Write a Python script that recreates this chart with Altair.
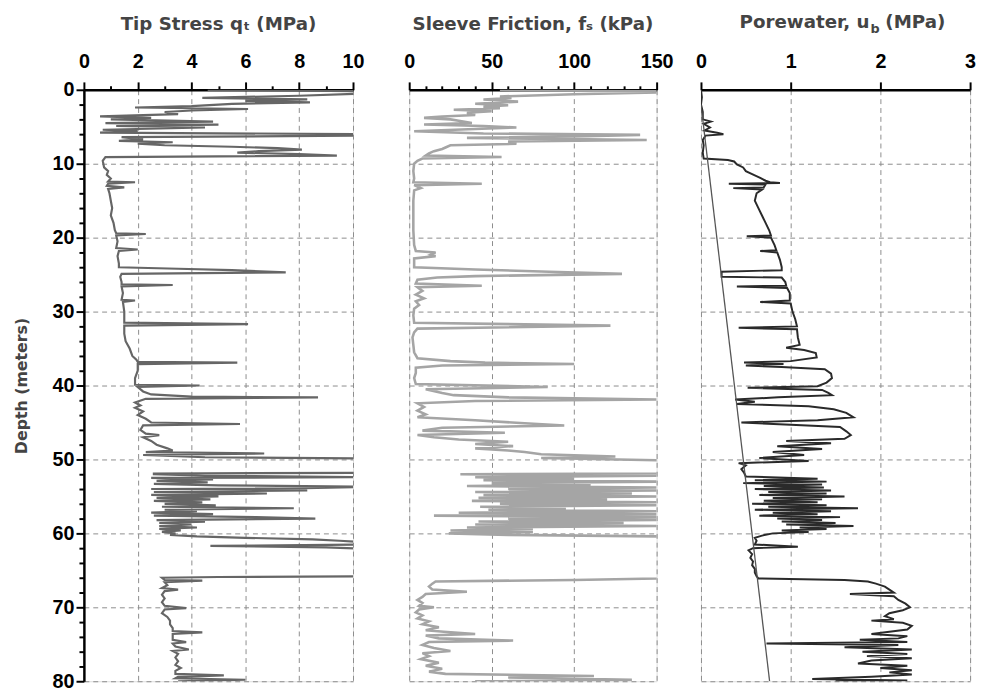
import altair as alt
import pandas as pd

# ---------------- data ----------------
tip_depth = [0.0, 0.2, 0.5, 0.8, 1.1, 1.3, 1.5, 1.7, 1.9, 2.2, 2.4, 2.6, 2.8, 3.0, 3.3, 3.6, 3.8, 4.0, 4.3, 4.5,
             4.7, 4.9, 5.1, 5.4, 5.6, 5.8, 6.0, 6.2, 6.4, 6.7, 6.9, 7.1, 7.3, 7.5, 7.7, 7.9, 8.1, 8.3, 8.5, 8.7,
             8.9, 9.1, 9.6, 10.5, 11.0, 11.5, 12.0, 12.4, 12.5, 12.7, 13.0, 13.2, 13.4, 14.0, 15.0, 16.0, 17.0,
             18.0, 19.0, 19.4, 19.5, 19.7, 20.5, 21.4, 21.6, 21.8, 22.5, 23.5, 24.0, 24.2, 24.4, 24.7, 24.9,
             25.3, 26.0, 26.3, 26.4, 26.6, 27.5, 28.4, 28.5, 28.7, 30.0, 31.5, 31.7, 31.9, 33.0, 34.0, 35.0,
             36.0, 36.5, 36.8, 36.9, 37.1, 38.0, 39.0, 39.9, 40.0, 40.2, 40.8, 41.2, 41.5, 41.6, 41.8, 42.3,
             42.7, 43.0, 43.5, 44.0, 44.5, 45.0, 45.2, 45.4, 46.0, 46.5, 46.7, 47.0, 47.5, 48.0, 48.5, 48.8,
             49.0, 49.2, 49.4, 49.7, 49.9, 51.8, 51.9, 52.0, 52.2, 52.4, 52.5, 52.7, 52.9, 53.1, 53.3, 53.5,
             53.7, 53.9, 54.0, 54.2, 54.4, 54.6, 54.8, 55.0, 55.2, 55.4, 55.6, 55.8, 56.0, 56.2, 56.4, 56.6,
             56.8, 57.0, 57.2, 57.4, 57.6, 57.8, 58.0, 58.2, 58.4, 58.6, 58.8, 59.0, 59.2, 59.4, 59.6, 59.8,
             60.0, 60.2, 60.4, 60.6, 60.8, 61.0, 61.2, 61.5, 61.7, 61.9, 62.1, 65.6, 65.8, 65.9, 66.0, 66.3,
             66.4, 66.6, 67.0, 67.4, 67.6, 67.8, 68.3, 68.8, 69.3, 69.8, 70.1, 70.3, 70.8, 71.3, 71.8, 72.3,
             72.8, 73.2, 73.4, 73.6, 74.0, 74.4, 74.7, 74.9, 75.3, 75.7, 75.9, 76.3, 76.8, 77.3, 77.8, 78.2,
             78.6, 79.0, 79.2, 79.4, 79.6, 79.8, 80.0]
tip_q = [4.6, 10.5, 10.5, 8.0, 4.4, 8.3, 6.0, 8.4, 5.5, 4.0, 1.9, 6.1, 4.0, 3.0, 3.5, 0.6, 2.5, 1.0, 4.8, 0.8,
         5.0, 1.2, 4.5, 0.7, 2.0, 0.6, 10.5, 10.5, 1.4, 2.2, 1.3, 3.3, 2.0, 3.0, 5.5, 7.2, 8.1, 6.5, 5.7, 8.0,
         9.4, 0.8, 0.7, 0.75, 0.9, 0.85, 1.0, 0.9, 1.9, 0.9, 0.85, 1.5, 0.9, 0.95, 1.0, 1.05, 1.0,
         1.1, 1.15, 1.2, 2.3, 1.2, 1.25, 1.2, 2.0, 1.3, 1.25, 1.3, 1.3, 3.5, 5.5, 7.5, 1.4,
         1.35, 1.4, 1.4, 3.3, 1.4, 1.45, 1.4, 1.9, 1.45, 1.5, 1.5, 6.1, 1.5, 1.5, 1.55, 1.7,
         1.8, 1.95, 2.0, 5.7, 2.0, 2.0, 1.9, 1.9, 4.3, 2.0, 2.2, 2.5, 4.0, 8.7, 2.3, 1.9,
         2.1, 1.9, 2.2, 2.0, 2.3, 2.5, 5.8, 2.2, 2.1, 2.3, 2.8, 2.2, 2.5, 2.7, 3.1, 3.3,
         2.3, 6.7, 2.2, 4.5, 12.0, 12.0, 2.6, 2.6, 4.5, 10.5, 2.5, 4.8, 2.7, 4.6, 2.6, 5.0,
         10.5, 8.2, 2.5, 8.3, 2.6, 6.8, 2.5, 5.0, 2.7, 4.7, 2.6, 4.4, 3.0, 4.9, 2.9, 7.8,
         3.0, 4.2, 2.5, 4.8, 2.6, 6.4, 8.6, 2.7, 4.5, 2.8, 4.0, 2.8, 4.2, 2.8, 3.6, 2.9,
         3.4, 3.2, 4.2, 6.0, 8.5, 9.5, 10.5, 10.5, 4.7, 9.0, 10.5, 12.0, 10.5, 5.0, 2.9, 3.0,
         4.4, 3.0, 3.1, 2.9, 3.5, 3.0, 2.9, 3.0, 2.9, 3.0, 3.8, 3.0, 2.9, 3.1, 3.2, 3.2,
         3.3, 3.3, 4.4, 3.3, 3.3, 3.3, 3.8, 3.3, 3.4, 3.9, 3.3, 3.5, 3.4, 3.5, 3.4, 3.6,
         3.4, 3.4, 5.2, 3.5, 3.4, 6.0, 3.5]

sleeve_depth = [0.0, 0.2, 0.35, 0.6, 0.9, 1.1, 1.3, 1.6, 1.9, 2.1, 2.3, 2.5, 2.7, 2.9, 3.1, 3.4, 3.6, 3.8, 4.0,
                4.2, 4.5, 4.7, 4.9, 5.1, 5.3, 5.6, 5.9, 6.1, 6.3, 6.5, 6.8, 7.0, 7.3, 7.5, 7.8, 8.0, 8.3,
                8.6, 8.9, 9.1, 9.3, 9.6, 10.0, 11.0, 12.0, 12.5, 12.7, 12.9, 13.3, 13.6, 15.0, 17.0, 19.0,
                21.0, 21.8, 22.0, 22.3, 22.5, 22.8, 24.0, 24.3, 24.6, 24.9, 25.2, 25.4, 25.7, 26.2, 26.5,
                26.7, 27.2, 27.7, 28.2, 28.6, 29.1, 29.6, 30.5, 31.5, 31.9, 32.3, 32.8, 33.5, 34.5, 35.5,
                36.3, 36.7, 36.9, 37.1, 37.3, 37.6, 38.3, 39.0, 39.8, 40.2, 40.5, 41.0, 41.3, 41.6, 41.9,
                42.1, 42.4, 42.9, 43.4, 43.9, 44.3, 44.7, 45.1, 45.4, 45.7, 46.1, 46.4, 46.7, 47.0, 47.3,
                47.6, 47.9, 48.2, 48.5, 48.8, 49.0, 49.3, 49.6, 49.8, 50.1, 50.3, 51.8, 51.9, 52.0, 52.2,
                52.4, 52.6, 52.8, 53.0, 53.2, 53.4, 53.6, 53.8, 54.0, 54.2, 54.4, 54.6, 54.8, 55.0, 55.2,
                55.4, 55.6, 55.8, 56.0, 56.2, 56.4, 56.6, 56.8, 57.0, 57.2, 57.4, 57.6, 57.8, 58.0, 58.2,
                58.4, 58.6, 58.8, 59.0, 59.2, 59.4, 59.6, 59.8, 60.0, 60.2, 60.4, 60.6, 66.0, 66.1, 66.3,
                66.5, 66.8, 67.2, 67.6, 67.9, 68.2, 68.6, 69.0, 69.4, 69.8, 70.0, 70.3, 70.7, 71.1, 71.5,
                71.9, 72.3, 72.7, 73.1, 73.3, 73.6, 73.8, 74.2, 74.5, 74.7, 75.1, 75.5, 75.9, 76.2, 76.6,
                77.0, 77.5, 77.9, 78.3, 78.7, 79.0, 79.3, 79.5, 79.8, 80.0]
sleeve_fs = [55, 150, 150, 100, 55, 62, 45, 66, 40, 60, 45, 55, 27, 50, 35, 40, 20, 9, 25,
             30, 38, 9, 45, 65, 40, 3, 45, 140, 100, 35, 144, 60, 65, 25, 22, 20, 15,
             12, 10, 56, 8, 5, 3, 2.5, 3, 2.5, 44, 3, 7, 3, 2.5, 2.5, 2.5,
             3, 4, 16, 13, 16, 3, 3, 40, 85, 129, 40, 17, 5, 4, 44,
             5, 8, 4, 9, 4, 6, 3, 2.5, 3, 122, 5, 3, 2, 2.5, 3,
             5, 25, 46, 100, 20, 4, 4, 3, 4, 84, 10, 20, 27, 60, 150,
             40, 5, 9, 5, 10, 5, 40, 70, 94, 20, 8, 58, 5, 15, 30,
             60, 40, 63, 40, 60, 70, 80, 125, 80, 150, 160, 160, 150, 31, 150,
             40, 100, 45, 150, 50, 110, 35, 150, 60, 150, 40, 135, 45, 150, 42,
             120, 38, 150, 55, 150, 43, 95, 48, 150, 30, 150, 15, 150, 60, 150,
             42, 130, 40, 150, 35, 75, 25, 75, 24, 60, 150, 160, 160, 150, 100,
             16, 14, 12, 14, 35, 10, 8, 5, 8, 6, 15, 6, 4, 8, 5,
             12, 8, 18, 10, 21, 40, 10, 18, 63, 12, 8, 15, 25, 8, 12,
             7, 18, 10, 20, 12, 22, 112, 60, 135, 40]

pore_depth = [0.0, 1.0, 2.0, 3.0, 4.0, 4.3, 4.6, 5.1, 5.5, 5.8, 6.0, 6.2, 6.8, 7.5, 8.5, 9.3, 9.5, 9.7, 10.1,
              10.5, 11.0, 11.4, 11.9, 12.3, 12.5, 12.6, 12.7, 12.8, 13.2, 13.3, 13.5, 14.0, 15.0, 16.0,
              17.0, 18.0, 19.0, 19.7, 19.8, 20.0, 21.0, 21.7, 21.8, 22.0, 23.0, 24.0, 24.4, 24.6, 25.3,
              25.4, 26.0, 26.5, 26.6, 26.8, 27.5, 28.5, 28.7, 28.9, 30.0, 31.0, 32.0, 32.2, 32.4, 33.5,
              34.5, 34.9, 35.2, 35.6, 36.2, 36.7, 36.9, 37.1, 37.3, 37.5, 37.8, 38.4, 39.0, 39.6, 40.1,
              40.3, 40.6, 41.0, 41.3, 41.6, 41.9, 42.2, 42.5, 42.8, 43.2, 43.7, 44.3, 44.7, 45.0, 45.3,
              45.6, 46.2, 46.7, 47.2, 47.5, 47.8, 48.2, 48.6, 49.0, 49.4, 49.8, 50.2, 50.5, 50.8, 51.3,
              51.8, 52.3, 52.6, 52.8, 53.0, 53.2, 53.4, 53.6, 53.8, 54.0, 54.2, 54.4, 54.6, 54.8, 55.0,
              55.2, 55.4, 55.6, 55.8, 56.0, 56.2, 56.4, 56.6, 56.8, 57.0, 57.2, 57.4, 57.6, 57.8, 58.0,
              58.2, 58.4, 58.6, 58.8, 59.0, 59.2, 59.4, 59.6, 59.8, 60.0, 60.3, 60.6, 61.0, 61.5, 61.8,
              62.0, 62.3, 62.8, 63.3, 63.8, 64.3, 64.8, 65.3, 65.8, 66.1, 66.3, 66.5, 66.8, 67.2, 67.6,
              68.0, 68.2, 68.5, 69.0, 69.5, 70.0, 70.4, 70.8, 71.2, 71.6, 71.8, 72.1, 72.5, 73.0, 73.3,
              73.6, 73.9, 74.2, 74.4, 74.7, 74.9, 75.1, 75.4, 75.7, 76.0, 76.3, 76.6, 76.9, 77.2, 77.6,
              77.9, 78.2, 78.5, 78.8, 79.1, 79.4, 79.7, 79.9, 80.0]
pore_u = [0.0, 0.01, 0.0, 0.02, 0.02, 0.11, 0.03, 0.10, 0.04, 0.18, 0.25, 0.05, 0.02, 0.03, 0.02, 0.03, 0.30,
          0.37, 0.40, 0.47, 0.50, 0.57, 0.66, 0.72, 0.77, 0.88, 0.31, 0.72, 0.70, 0.36, 0.68, 0.62, 0.60,
          0.64, 0.68, 0.72, 0.76, 0.78, 0.51, 0.78, 0.82, 0.84, 0.66, 0.85, 0.88, 0.90, 0.90, 0.23, 0.23,
          0.90, 0.94, 0.95, 0.40, 0.96, 0.99, 0.99, 0.66, 1.0, 1.02, 1.05, 1.07, 0.42, 1.07, 1.08,
          1.10, 0.95, 1.15, 1.28, 1.29, 1.0, 0.48, 0.92, 0.50, 0.9, 1.38, 1.45, 1.46, 1.40, 1.30,
          0.52, 1.35, 1.42, 1.46, 0.86, 0.38, 0.60, 0.40, 1.2, 1.48, 1.62, 1.70, 1.30, 0.45, 1.0,
          1.55, 1.62, 1.67, 1.60, 0.95, 1.45, 0.85, 1.35, 0.80, 1.15, 0.65, 1.20, 0.42, 0.50, 0.45,
          0.48, 0.50, 1.30, 0.60, 1.40, 0.47, 1.35, 0.70, 1.37, 0.60, 1.45, 0.75, 1.40, 0.65, 1.60,
          0.80, 1.35, 0.70, 1.30, 0.57, 1.40, 0.75, 1.75, 0.60, 1.45, 0.80, 1.30, 0.65, 1.55, 0.85,
          1.35, 0.90, 1.50, 0.95, 1.70, 1.10, 1.40, 0.90, 1.20, 0.80, 0.68, 0.60, 0.62, 0.60, 1.08,
          0.58, 0.53, 0.57, 0.55, 0.58, 0.57, 0.60, 0.60, 0.62, 0.64, 1.60, 1.86, 1.95, 2.05, 2.10,
          2.15, 1.66, 2.15, 2.20, 2.28, 2.33, 2.25, 2.10, 2.05, 2.15, 1.90, 2.25, 2.35, 2.30, 2.10,
          1.90, 2.30, 2.20, 1.77, 2.30, 0.73, 2.2, 1.60, 2.35, 1.80, 2.30, 1.85, 2.35, 1.90, 1.75,
          2.30, 2.0, 2.35, 2.1, 2.35, 1.9, 1.24, 2.3, 1.5]

hydro_depth = [2.0, 80.0]
hydro_u = [0.0, 0.765]

# ---------------- styling ----------------
TFONT = "DejaVu Sans"
LFONT = "Liberation Sans"
GRID = "#8c8c8c"
TCOL = "#444444"
H = 600


def cond(test, a, b):
    return {"condition": {"test": test, "value": a}, "value": b}


def x_axis(values, test):
    return alt.Axis(
        orient="top", values=values, tickCount=200, format="d",
        labelExpr=f"({test}) ? datum.label : ''",
        tickSize=cond(test, 8, 4), gridOpacity=cond(test, 1, 0),
        grid=True, gridDash=[5, 4], gridColor=GRID, gridWidth=1,
        labelFont=LFONT, labelFontSize=20, labelFontWeight="bold", labelColor="black",
        labelPadding=11, labelFlush=False, labelOverlap=False, tickColor="black", tickWidth=2,
        domainColor="black", domainWidth=2.5, title=None,
    )


ytest = "datum.value % 10 == 0"
y_axis_main = alt.Axis(
    orient="left", values=list(range(0, 81, 2)), tickCount=200, format="d",
    labelExpr=f"({ytest}) ? datum.label : ''",
    tickSize=cond(ytest, 8, 5), gridOpacity=cond(ytest, 1, 0),
    grid=True, gridDash=[5, 4], gridColor=GRID, gridWidth=1,
    labelFont=LFONT, labelFontSize=20, labelFontWeight="bold", labelColor="black",
    labelPadding=2, labelFlush=False, labelOverlap=False, tickColor="black", tickWidth=2,
    domainColor="black", domainWidth=2.5,
    title="Depth (meters)", titleFont=TFONT, titleFontSize=16, titleFontWeight="bold",
    titleColor=TCOL, titlePadding=23,
)
y_axis_plain = alt.Axis(
    values=list(range(0, 81, 10)), tickCount=200, labels=False, ticks=False, domain=False, title=None,
    grid=True, gridDash=[5, 4], gridColor=GRID, gridWidth=1,
)
yscale = alt.Scale(domain=[0, 80], reverse=True, nice=False, zero=False)

tip_df = pd.DataFrame({"depth": tip_depth, "val": tip_q, "idx": range(len(tip_q))})
sl_df = pd.DataFrame({"depth": sleeve_depth, "val": sleeve_fs, "idx": range(len(sleeve_fs))})
pw_df = pd.concat([
    pd.DataFrame({"depth": pore_depth, "val": pore_u, "idx": range(len(pore_u)), "series": "u"}),
    pd.DataFrame({"depth": hydro_depth, "val": hydro_u, "idx": range(len(hydro_u)), "series": "h"}),
], ignore_index=True)

title_params = dict(font=TFONT, fontSize=18.5, fontWeight="bold", color=TCOL, offset=18)

# Panel 1
t_test = "abs(datum.value % 2) < 0.01"
p1 = alt.Chart(tip_df).mark_line(color="#666666", strokeWidth=2.2, clip=True).encode(
    x=alt.X("val:Q", scale=alt.Scale(domain=[0, 10], nice=False),
            axis=x_axis([i * 0.5 for i in range(21)], t_test)),
    y=alt.Y("depth:Q", scale=yscale, axis=y_axis_main),
    order="idx:Q",
).properties(width=273, height=H,
             title=alt.TitleParams("Tip Stress q\u209c (MPa)", **title_params))

# Panel 2
s_test = "datum.value % 50 == 0"
p2 = alt.Chart(sl_df).mark_line(color="#a5a5a5", strokeWidth=2.6, clip=True).encode(
    x=alt.X("val:Q", scale=alt.Scale(domain=[0, 150], nice=False),
            axis=x_axis(list(range(0, 151, 10)), s_test)),
    y=alt.Y("depth:Q", scale=yscale, axis=y_axis_plain),
    order="idx:Q",
).properties(width=251, height=H,
             title=alt.TitleParams("Sleeve Friction, f\u209b (kPa)", **title_params))

# Panel 3 (major ticks only, so that no tick value is thinned away)
u_axis = x_axis([0, 1, 2, 3], "datum.value % 1 == 0")
pw_line = alt.Chart(pw_df).mark_line(clip=True).encode(
    x=alt.X("val:Q", scale=alt.Scale(domain=[0, 3], nice=False), axis=u_axis),
    y=alt.Y("depth:Q", scale=yscale, axis=y_axis_plain),
    order="idx:Q",
    detail="series:N",
    color=alt.Color("series:N", scale=alt.Scale(domain=["u", "h"], range=["#2a2a2a", "#555555"]),
                    legend=None),
    strokeWidth=alt.StrokeWidth("series:N", scale=alt.Scale(domain=["u", "h"], range=[2.0, 1.3]),
                                legend=None),
)

one = pd.DataFrame({"k": [0]})
tkw = dict(font=TFONT, fontWeight="bold", color=TCOL, baseline="alphabetic")
t_main = alt.Chart(one).mark_text(text="Porewater, u", align="right", fontSize=18.5, **tkw).encode(
    x=alt.value(171), y=alt.value(-63))
t_sub = alt.Chart(one).mark_text(text="b", align="left", fontSize=13, **tkw).encode(
    x=alt.value(172), y=alt.value(-58))
t_unit = alt.Chart(one).mark_text(text="(MPa)", align="left", fontSize=18.5, **tkw).encode(
    x=alt.value(187), y=alt.value(-63))

p3 = alt.layer(pw_line, t_main, t_sub, t_unit).properties(width=273, height=H)

left = alt.hconcat(p1, p2, spacing=57, bounds="flush")
chart = alt.hconcat(left, p3, spacing=20).properties(
    padding={"left": 5, "top": -1, "right": 0, "bottom": 0}
).configure_view(stroke="black", strokeWidth=2.5).configure(background="white")

chart.save("out.html", embed_options={"renderer": "svg", "actions": False})
